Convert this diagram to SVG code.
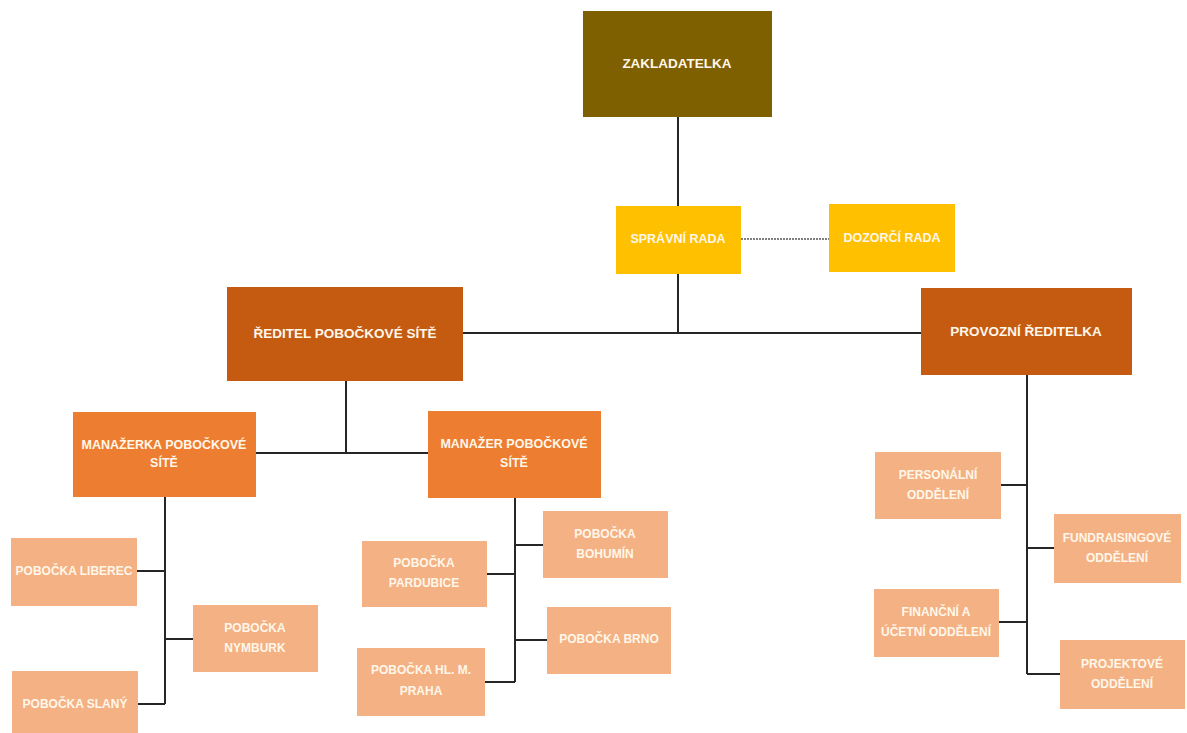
<svg xmlns="http://www.w3.org/2000/svg" width="1187" height="733" viewBox="0 0 1187 733">
<style>
text{font-family:"Liberation Sans",Arial,sans-serif;font-weight:bold;fill:#FFF7EA;text-anchor:middle;dominant-baseline:central}
.l1{font-size:13.5px}
.l2{font-size:12.5px}
.l3{font-size:12px}
.zak{fill:#7F6000}
.rada{fill:#FFC000}
.dir{fill:#C55A11}
.mgr{fill:#ED7D31}
.leaf{fill:#F4B183}
.ln{fill:none;stroke:#262626;stroke-width:2}
.dash{fill:none;stroke:#7F7F7F;stroke-width:2;stroke-dasharray:2 1}
</style>
<rect width="1187" height="733" fill="#FFFFFF"/>
<g id="connectors">
<path class="ln" d="M678,117V206M678,274V333M463,333H921"/>
<path class="dash" d="M741,239H829"/>
<path class="ln" d="M346,381V453M256,453H428"/>
<path class="ln" d="M165,497V704M137,571H165M165,639H193M138,704H165"/>
<path class="ln" d="M515,498V682M515,545H543M487,574H515M515,640H547M485,682H515"/>
<path class="ln" d="M1027,375V674M1001,485H1027M1027,548H1054M999,622H1027M1027,674H1060"/>
</g>
<g id="zakladatelka"><rect class="zak" x="583" y="11" width="189" height="106"/><text class="l1" x="677" y="63">ZAKLADATELKA</text></g>
<g id="spravni-rada"><rect class="rada" x="616" y="206" width="125" height="68"/><text class="l2" x="678" y="239">SPRÁVNÍ RADA</text></g>
<g id="dozorci-rada"><rect class="rada" x="829" y="204" width="126" height="68"/><text class="l2" x="892" y="238">DOZORČÍ RADA</text></g>
<g id="reditel"><rect class="dir" x="227" y="287" width="236" height="94"/><text class="l1" x="345" y="333">ŘEDITEL POBOČKOVÉ SÍTĚ</text></g>
<g id="provozni"><rect class="dir" x="921" y="288" width="211" height="87"/><text class="l1" x="1026" y="331">PROVOZNÍ ŘEDITELKA</text></g>
<g id="manazerka"><rect class="mgr" x="73" y="412" width="183" height="85"/><text class="l2" x="164" y="445">MANAŽERKA POBOČKOVÉ</text><text class="l2" x="164" y="463">SÍTĚ</text></g>
<g id="manazer"><rect class="mgr" x="428" y="411" width="173" height="87"/><text class="l2" x="514" y="444">MANAŽER POBOČKOVÉ</text><text class="l2" x="514" y="463">SÍTĚ</text></g>
<g id="liberec"><rect class="leaf" x="11" y="538" width="126" height="68"/><text class="l3" x="74" y="571">POBOČKA LIBEREC</text></g>
<g id="nymburk"><rect class="leaf" x="193" y="605" width="125" height="67"/><text class="l3" x="255" y="628">POBOČKA</text><text class="l3" x="255" y="648">NYMBURK</text></g>
<g id="slany"><rect class="leaf" x="12" y="671" width="126" height="70"/><text class="l3" x="75" y="704">POBOČKA SLANÝ</text></g>
<g id="bohumin"><rect class="leaf" x="543" y="511" width="125" height="67"/><text class="l3" x="605" y="534">POBOČKA</text><text class="l3" x="605" y="554">BOHUMÍN</text></g>
<g id="pardubice"><rect class="leaf" x="362" y="541" width="125" height="66"/><text class="l3" x="424" y="563">POBOČKA</text><text class="l3" x="424" y="583">PARDUBICE</text></g>
<g id="brno"><rect class="leaf" x="547" y="607" width="124" height="67"/><text class="l3" x="609" y="639">POBOČKA BRNO</text></g>
<g id="praha"><rect class="leaf" x="357" y="648" width="128" height="68"/><text class="l3" x="421" y="670">POBOČKA HL. M.</text><text class="l3" x="421" y="691">PRAHA</text></g>
<g id="personalni"><rect class="leaf" x="875" y="452" width="126" height="67"/><text class="l3" x="938" y="475">PERSONÁLNÍ</text><text class="l3" x="938" y="495">ODDĚLENÍ</text></g>
<g id="fundraisingove"><rect class="leaf" x="1054" y="514" width="127" height="69"/><text class="l3" x="1117" y="538">FUNDRAISINGOVÉ</text><text class="l3" x="1117" y="558">ODDĚLENÍ</text></g>
<g id="financni"><rect class="leaf" x="874" y="589" width="125" height="68"/><text class="l3" x="936" y="612">FINANČNÍ A</text><text class="l3" x="936" y="632">ÚČETNÍ ODDĚLENÍ</text></g>
<g id="projektove"><rect class="leaf" x="1060" y="640" width="125" height="69"/><text class="l3" x="1122" y="664">PROJEKTOVÉ</text><text class="l3" x="1122" y="684">ODDĚLENÍ</text></g>
</svg>
